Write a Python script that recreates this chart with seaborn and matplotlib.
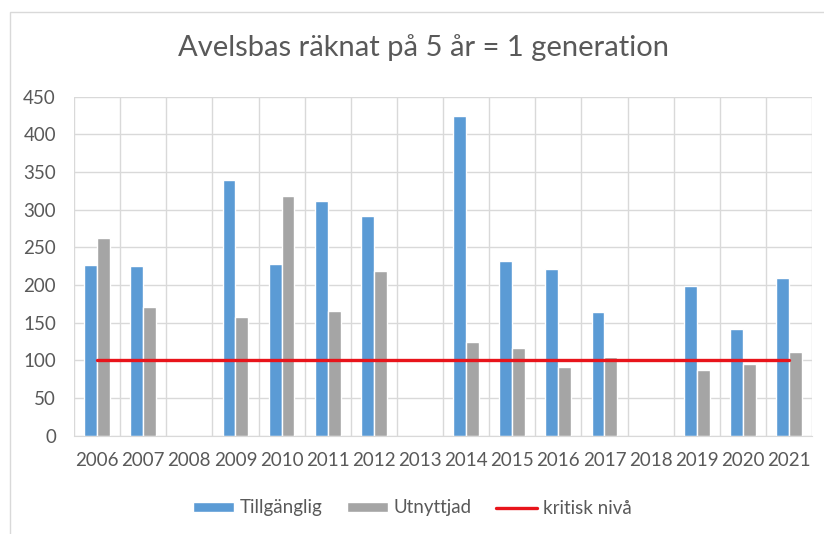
import pandas as pd
import matplotlib
matplotlib.use("Agg")
import matplotlib.pyplot as plt
import numpy as np
import seaborn as sns
from matplotlib.patches import Rectangle
from matplotlib.ticker import MultipleLocator

# Data
years = ['2006', '2007', '2008', '2009', '2010', '2011', '2012', '2013',
         '2014', '2015', '2016', '2017', '2018', '2019', '2020', '2021']
tillganglig = [227, 225, np.nan, 340, 228, 311, 292, np.nan,
               425, 232, 221, 164, np.nan, 199, 142, 210]
utnyttjad = [262, 171, np.nan, 158, 318, 166, 219, np.nan,
             125, 116, 91, 105, np.nan, 87, 95, 111]
kritisk = [100] * len(years)

series_names = ['Tillgänglig', 'Utnyttjad']
colors = ['#5B9BD5', '#A5A5A5']
text_color = '#595959'
grid_color = '#D9D9D9'

df = pd.DataFrame({'year': years, 'Tillgänglig': tillganglig, 'Utnyttjad': utnyttjad})
df_long = df.melt(id_vars='year', var_name='serie', value_name='antal')

sns.set_style("white")
plt.rcParams['font.family'] = ['Lato', 'DejaVu Sans']

fig = plt.figure(figsize=(8.24, 5.34), dpi=100)
ax = fig.add_axes([74 / 824, 1 - 435.7 / 534, (812 - 74) / 824, (435.7 - 96.7) / 534])

sns.barplot(
    data=df_long, x='year', y='antal', hue='serie',
    order=years, hue_order=series_names, palette=colors,
    width=0.56, saturation=1, ax=ax
)
ax.get_legend().remove()

# Kritisk nivå
ax.plot(range(len(years)), kritisk, color='#E8141B', lw=2.4, label='kritisk nivå', zorder=5)

ax.set_xlim(-0.5, len(years) - 0.5)
ax.set_ylim(0, 450)
ax.yaxis.set_major_locator(MultipleLocator(50))
ax.set_xticks(np.arange(-0.5, len(years), 1.0), minor=True)
ax.grid(True, axis='y', which='major', color=grid_color, lw=1)
ax.grid(True, axis='x', which='minor', color=grid_color, lw=1)
ax.grid(False, axis='x', which='major')
ax.set_axisbelow(True)
for sp in ax.spines.values():
    sp.set_visible(False)
ax.spines['bottom'].set_visible(True)
ax.spines['bottom'].set_color(grid_color)

ax.tick_params(axis='both', which='both', length=0, colors=text_color, labelsize=13.5)
ax.tick_params(axis='y', pad=13)
ax.tick_params(axis='x', pad=12)
ax.set_xlabel('')
ax.set_ylabel('')

fig.text(0.514, 1 - 48 / 534, 'Avelsbas räknat på 5 år = 1 generation',
         ha='center', va='center', fontsize=21, color=text_color)

handles, labels = ax.get_legend_handles_labels()
fig.legend(handles, labels, loc='center', bbox_to_anchor=(0.5, 1 - 508 / 534), ncol=3,
           frameon=False, fontsize=13.5, labelcolor=text_color,
           handlelength=2.2, handleheight=0.5, handletextpad=0.3, columnspacing=1.3)

# Diagramramen
fig.patches.append(Rectangle((10 / 824, -0.1), 1.1, 1 - 12 / 534 + 0.1,
                             transform=fig.transFigure, fill=False,
                             edgecolor=grid_color, lw=1))

fig.savefig('out.png', dpi=100)
